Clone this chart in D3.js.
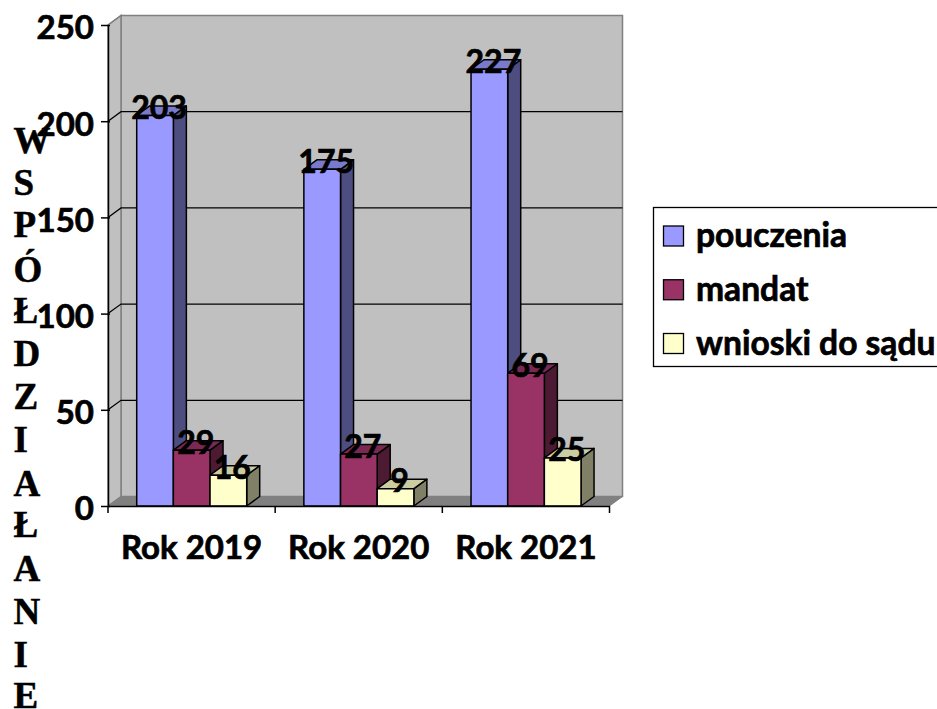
<!DOCTYPE html>
<html><head><meta charset="utf-8">
<script src="https://cdnjs.cloudflare.com/ajax/libs/d3/7.8.5/d3.min.js"></script>
<style>html,body{margin:0;padding:0;background:#fff;overflow:hidden}svg{display:block}text{font-family:Lato,"Noto Sans",sans-serif;font-weight:700;fill:#000;stroke:#000;stroke-width:.7px}</style>
</head><body><svg id="c" width="937" height="709"></svg>
<script>
const categories = ["Rok 2019","Rok 2020","Rok 2021"];
const seriesNames = ["pouczenia","mandat","wnioski do sądu"];
const pouczenia = [203,175,227];
const mandat = [29,27,69];
const wnioski = [16,9,25];
const seriesValues = [pouczenia,mandat,wnioski];
const yTicks = [0,50,100,150,200,250];
const titleLetters = ["W","S","P","Ó","Ł","D","Z","I","A","Ł","A","N","I","E"];
const titleY = [153,195,237,282,323,366,409,452,496,537,581,624,667,708];
const fills = ["#9999FF","#993366","#FFFFCC"];
const tops = ["#7A7ACC","#7A2952","#CCCCA3"];
const sides = ["#4D4D80","#4D1A33","#808066"];

const svg = d3.select("#c");
const L=108,R=609.5,B=506,T=25,DX=13,DY=9.5;
const x = d3.scaleBand().domain(categories).range([L,R]);
const inner = d3.scaleBand().domain(seriesNames).range([28.7,138.7]);
const y = d3.scaleLinear().domain([0,250]).range([B,T]);
const pts = a=>a.map(p=>p.join(",")).join(" ");

// walls
svg.append("polygon").attr("points",pts([[L+DX,y(250)-DY],[R+DX,y(250)-DY],[R+DX,y(0)-DY],[L+DX,y(0)-DY]])).attr("fill","#C0C0C0").attr("stroke","#808080").attr("stroke-width",1.5);
svg.append("polygon").attr("points",pts([[L,y(250)],[L+DX,y(250)-DY],[L+DX,y(0)-DY],[L,y(0)]])).attr("fill","#C0C0C0").attr("stroke","#808080").attr("stroke-width",1.5);
svg.append("polygon").attr("points",pts([[L,y(0)],[L+DX,y(0)-DY],[R+DX,y(0)-DY],[R,y(0)]])).attr("fill","#808080").attr("stroke","#808080");
// grid
const inner_ticks = yTicks.slice(1,-1);
svg.append("g").selectAll("path").data(inner_ticks).join("path")
  .attr("d",v=>`M${L},${y(v)}L${L+DX},${y(v)-DY}L${R+DX},${y(v)-DY}`)
  .attr("fill","none").attr("stroke","#000").attr("stroke-width",1.3);
svg.append("path").attr("d",`M${L},${y(250)}L${L+DX},${y(250)-DY}`).attr("stroke","#808080").attr("stroke-width",1.3);

// bars
const flat=[];
categories.forEach((c,i)=>seriesNames.forEach((s,j)=>flat.push({c,s,j,v:seriesValues[j][i]})));
const w = inner.bandwidth();
const g = svg.append("g").attr("stroke","#000").attr("stroke-width",1.5).attr("stroke-linejoin","round");
flat.forEach(d=>{
  const x0=x(d.c)+inner(d.s), x1=x0+w, y0=y(d.v), yb=y(0);
  g.append("polygon").attr("points",pts([[x1,y0],[x1+DX,y0-DY],[x1+DX,yb-DY],[x1,yb]])).attr("fill",sides[d.j]);
  g.append("polygon").attr("points",pts([[x0,y0],[x0+DX,y0-DY],[x1+DX,y0-DY],[x1,y0]])).attr("fill",tops[d.j]);
  g.append("rect").attr("x",x0).attr("y",y0).attr("width",w).attr("height",yb-y0).attr("fill",fills[d.j]);
});

// axes
const ya = svg.append("g").attr("transform",`translate(${L},0)`)
  .call(d3.axisLeft(y).tickValues(yTicks).tickSize(7).tickPadding(7).tickSizeOuter(0));
ya.selectAll("line,path").attr("stroke","#000").attr("stroke-width",1.5);
ya.selectAll("line").attr("x2",-7).attr("x1",2);
ya.selectAll("text").style("font-size","33px").attr("dy","0.42em");
const xa = svg.append("g").attr("transform",`translate(0,${B})`)
  .call(d3.axisBottom(x).tickSize(0).tickPadding(30));
xa.selectAll("path").attr("stroke","#000").attr("stroke-width",1.5);
xa.selectAll("text").style("font-size","33px");
xa.selectAll("line.edge").data([...categories.map(c=>x(c)),R]).join("line").attr("class","edge")
  .attr("x1",d=>d).attr("x2",d=>d).attr("y1",0).attr("y2",7).attr("stroke","#000").attr("stroke-width",1.5);

// data labels
svg.append("g").selectAll("text").data(flat).join("text")
  .attr("x",d=>x(d.c)+inner(d.s)+w/2+4).attr("y",d=>y(d.v)+3.5)
  .attr("text-anchor","middle").style("font-size","32px").text(d=>d.v);

// vertical title
svg.append("g").selectAll("text").data(titleLetters).join("text")
  .attr("x",13.5).attr("y",(d,i)=>titleY[i]).attr("text-anchor","start")
  .style("font-family","'Liberation Serif',serif").style("font-size","37px").style("stroke-width","0.5px").text(d=>d);

// legend
svg.append("rect").attr("x",653.5).attr("y",207.5).attr("width",300).attr("height",159).attr("fill","#fff").attr("stroke","#000").attr("stroke-width",1.3);
const ly = d3.scalePoint().domain(seriesNames).range([236,343.5]);
const lg = svg.append("g").selectAll("g").data(seriesNames).join("g").attr("transform",d=>`translate(0,${ly(d)})`);
lg.append("rect").attr("x",663.5).attr("y",-10).attr("width",20).attr("height",20).attr("fill",(d,i)=>fills[i]).attr("stroke","#000").attr("stroke-width",1.3);
lg.append("text").attr("x",696).attr("y",11).style("font-size","33.6px").text(d=>d);
</script></body></html>
